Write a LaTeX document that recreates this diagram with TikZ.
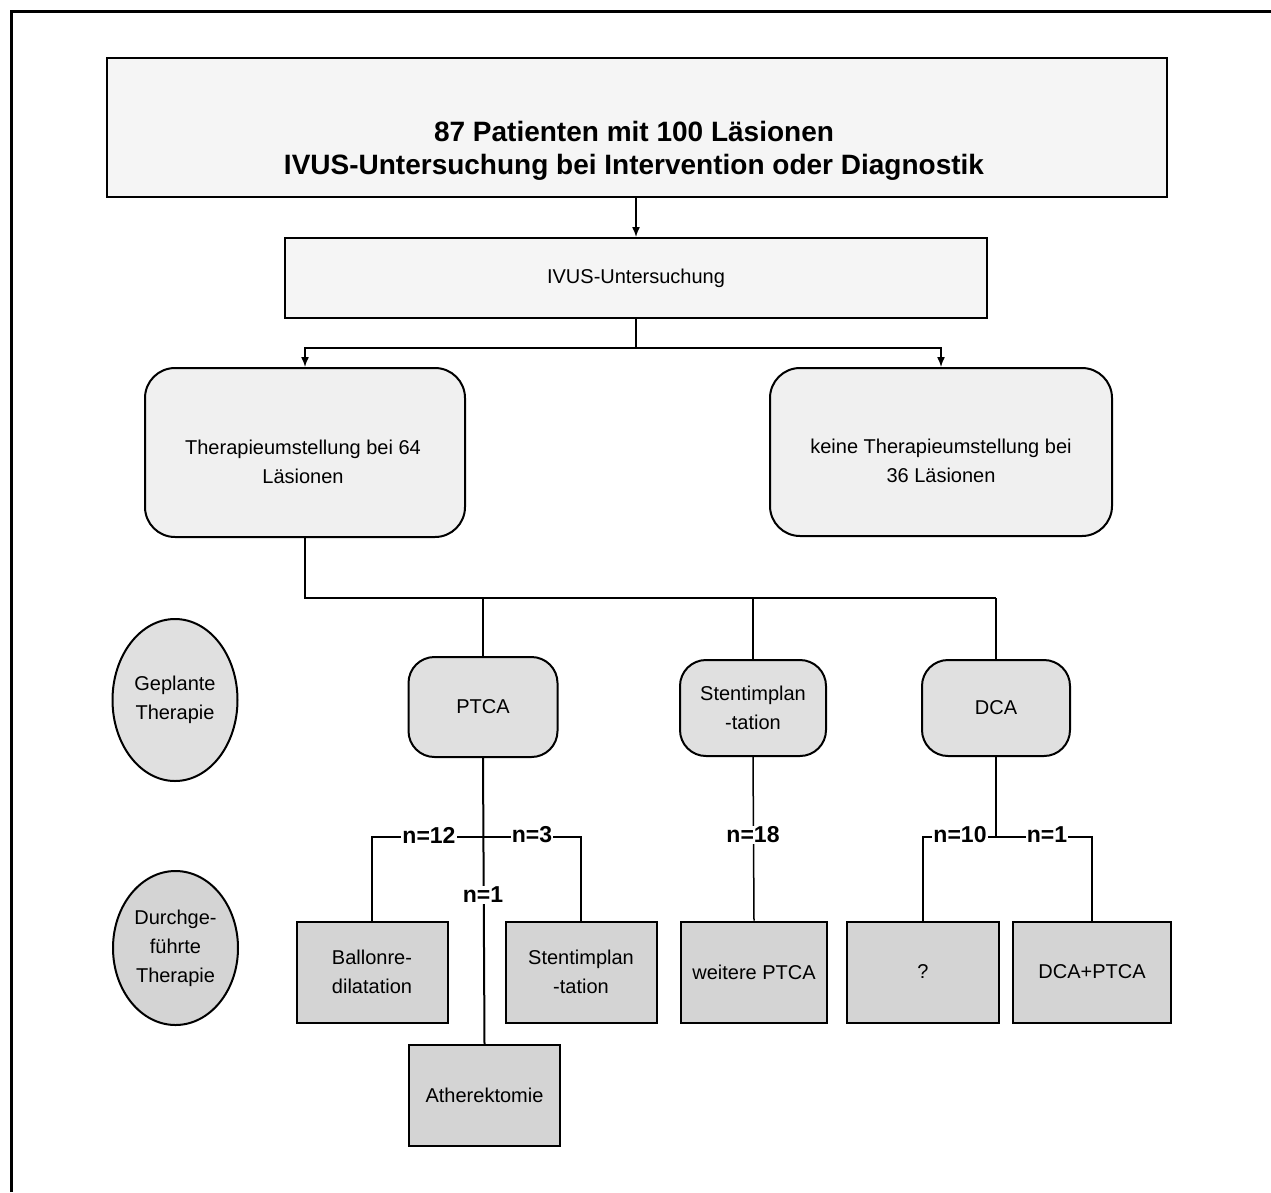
\documentclass[tikz,border=0pt]{standalone}
\usepackage{fontspec}
\setmainfont{Liberation Sans}
\usetikzlibrary{shapes.geometric,arrows.meta}
\definecolor{hell}{HTML}{F5F5F5}
\definecolor{halb}{HTML}{F0F0F0}
\definecolor{mittel}{HTML}{E0E0E0}
\definecolor{dunkel}{HTML}{D4D4D4}
\tikzset{kasten/.style={draw=black, line width=2pt, fill=hell, inner sep=0pt, align=center},
rund/.style={kasten, fill=mittel, rounded corners=#1},
rund/.default={26pt},
oval/.style={ellipse, draw=black, line width=2pt, fill=mittel, inner sep=0pt, align=center},
blatt/.style={kasten, fill=dunkel, minimum width=151pt, minimum height=101pt},
schrift/.style={align=center, inner sep=0pt},
linie/.style={line width=1.5pt},
pfeil/.style={linie, -{Latex[length=10pt,width=8pt]}},
anz/.style={fill=white, inner sep=1pt, font=\fontsize{23}{23}\selectfont\bfseries}}

\begin{document}
\begin{tikzpicture}[x=1pt,y=-1pt,font=\fontsize{20}{29}\selectfont]

\useasboundingbox (0,0) rectangle (1271,1192);
\draw[line width=3pt] (11,1192) -- (11,11) -- (1271,11);

\node[kasten, minimum width=1060pt, minimum height=139pt] (kopf) at (637,127.5) {};
\node[schrift, font=\fontsize{28}{33}\selectfont\bfseries] (kopftext) at (634,151)
  {87 Patienten mit 100 Läsionen\\IVUS-Untersuchung bei Intervention oder Diagnostik};
\node[kasten, minimum width=702pt, minimum height=80pt] (ivus) at (636,278) {IVUS-Untersuchung};

\node[rund=30pt, fill=halb, minimum width=320pt, minimum height=169pt] (tum) at (305,452.5) {};
\node[schrift] (tumtext) at (303,461.5) {Therapieumstellung bei 64\\Läsionen};
\node[rund=30pt, fill=halb, minimum width=342pt, minimum height=168pt] (ktum) at (941,452) {};
\node[schrift] (ktumtext) at (941,461) {keine Therapieumstellung bei\\36 Läsionen};

\node[oval, minimum width=125pt, minimum height=162pt] (geplant) at (175,700) {Geplante\\Therapie};
\node[oval, fill=dunkel, minimum width=125pt, minimum height=154pt] (durch) at (175.5,948)
  {Durchge-\\führte\\Therapie};

\node[rund, minimum width=149pt, minimum height=100pt] (ptca) at (483,707) {PTCA};
\node[rund, minimum width=146pt, minimum height=96pt] (stent) at (753,708) {Stentimplan\\-tation};
\node[rund, minimum width=148pt, minimum height=96pt] (dca) at (996,708) {DCA};

\node[blatt] (ballon) at (372,972) {Ballonre-\\dilatation};
\node[blatt] (stentb) at (581,972) {Stentimplan\\-tation};
\node[blatt] (ather) at (484.5,1095.5) {Atherektomie};
\node[blatt, minimum width=146pt] (weitere) at (754,972) {weitere PTCA};
\node[blatt, minimum width=152pt] (frage) at (923,972) {?};
\node[blatt, minimum width=158pt] (dcaptca) at (1092,972) {DCA+PTCA};

\coordinate (verz) at (636,348);
\coordinate (gabel) at (305,598);
\coordinate (ast) at (483,837);

\draw[pfeil] (kopf.south -| ivus.north) -- (ivus.north);
\draw[linie] (ivus.south) -- (verz);
\draw[pfeil] (verz) -| (tum.north);
\draw[pfeil] (verz) -| (ktum.north);

\draw[line width=2.5pt] (tum.south) -- (gabel) -- (gabel -| dca.north);
\foreach \k in {ptca, stent, dca}
    \draw[linie] (gabel -| \k.north) -- (\k.north);

\draw[line width=2pt] (ptca.south) -- (ather.north);
\draw[linie] (ballon.north) |- (ast) -| (stentb.north);
\draw[linie] (stent.south) -- (weitere.north);
\draw[linie] (dca.south) -- (dca.south |- ast);
\draw[linie] (frage.north) |- (ast -| dca.south) -| (dcaptca.north);

\node[anz] (n12) at (429,835) {n=12};
\node[anz] (n3) at (532,835) {n=3};
\node[anz] (n1a) at (483,895) {n=1};
\node[anz] (n18) at (753,835) {n=18};
\node[anz] (n10) at (960,835) {n=10};
\node[anz] (n1b) at (1047,835) {n=1};

\end{tikzpicture}
\end{document}
